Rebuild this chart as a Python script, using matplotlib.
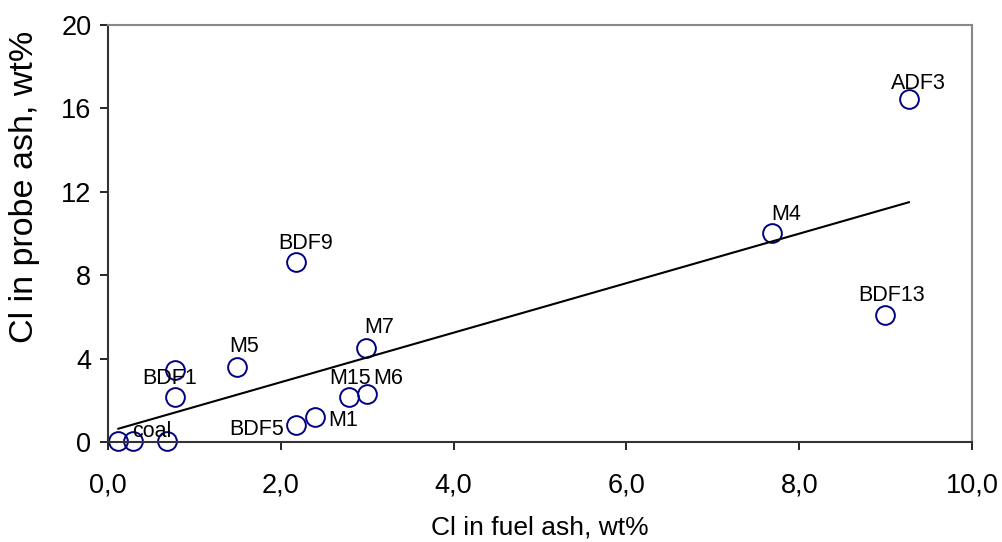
import matplotlib
matplotlib.use("Agg")
import matplotlib.pyplot as plt
import numpy as np

plt.rcParams["font.family"] = ["Liberation Sans", "DejaVu Sans"]

# Cl in fuel ash vs Cl in probe ash (wt%)
fuel_cl = [0.12, 0.29, 0.68, 0.78, 0.78, 1.49, 2.18, 2.18, 2.40, 2.79, 3.00, 2.99, 7.69, 8.99, 9.27]
probe_cl = [0.05, 0.05, 0.05, 3.45, 2.17, 3.61, 8.65, 0.82, 1.21, 2.17, 2.29, 4.49, 10.04, 6.09, 16.45]
names = ["", "coal", "", "", "BDF1", "M5", "BDF9", "BDF5", "M1", "M15", "M6", "M7", "M4", "BDF13", "ADF3"]

x_ticks = [0, 2, 4, 6, 8, 10]
x_tick_labels = ["0,0", "2,0", "4,0", "6,0", "8,0", "10,0"]
y_ticks = [0, 4, 8, 12, 16, 20]

# label offsets in pixels (dx, dy) and alignment
label_pos = {
    "coal": (19, 9, "center"),
    "BDF1": (-6, 18, "center"),
    "M5": (7, 20, "center"),
    "BDF9": (9, 18, "center"),
    "BDF5": (-40, -5, "center"),
    "M1": (13, -4, "left"),
    "M15": (1, 18, "center"),
    "M6": (21, 16, "center"),
    "M7": (13, 21, "center"),
    "M4": (14, 18, "center"),
    "BDF13": (7, 20, "center"),
    "ADF3": (9, 16, "center"),
}

fig = plt.figure(figsize=(10.02, 5.42), dpi=100)
ax = fig.add_axes([108 / 1002, 1 - 442 / 542, (972 - 108) / 1002, (442 - 25) / 542])

x = np.array(fuel_cl)
y = np.array(probe_cl)

# linear trend line across data range
k, b = np.polyfit(x, y, 1)
xt = np.array([x.min(), x.max()])
ax.plot(xt, k * xt + b, color="black", lw=1.5, zorder=3)

ax.plot(x, y, "o", ms=13.5, mfc="none", mec="#000080", mew=1.4, zorder=2, clip_on=False)

px2pt = 72 / 100
for xi, yi, name in zip(x, y, names):
    if not name:
        continue
    dx, dy, ha = label_pos[name]
    ax.annotate(name, (xi, yi), xytext=(dx * px2pt, dy * px2pt), textcoords="offset points",
                ha=ha, va="center", fontsize=15.5, color="black", zorder=4)

ax.set_xlim(0, 10)
ax.set_ylim(0, 20)
ax.set_xticks(x_ticks)
ax.set_xticklabels(x_tick_labels)
ax.set_yticks(y_ticks)
ax.tick_params(axis="x", direction="out", length=6, width=1.2, pad=16, labelsize=19.5, colors="black")
ax.tick_params(axis="y", direction="out", length=6, width=1.2, pad=6, labelsize=19.5, colors="black")

for side in ["left", "bottom"]:
    ax.spines[side].set_color("#333333")
    ax.spines[side].set_linewidth(1.5)
for side in ["top", "right"]:
    ax.spines[side].set_color("#888888")
    ax.spines[side].set_linewidth(1.5)

ax.set_xlabel("Cl in fuel ash, wt%", fontsize=19, labelpad=12)
fig.text(25 / 1002, 1 - 187 / 542, "Cl in probe ash, wt%", rotation=90, fontsize=24.5,
         ha="center", va="center")

fig.savefig("out.png", dpi=100, facecolor="white")
